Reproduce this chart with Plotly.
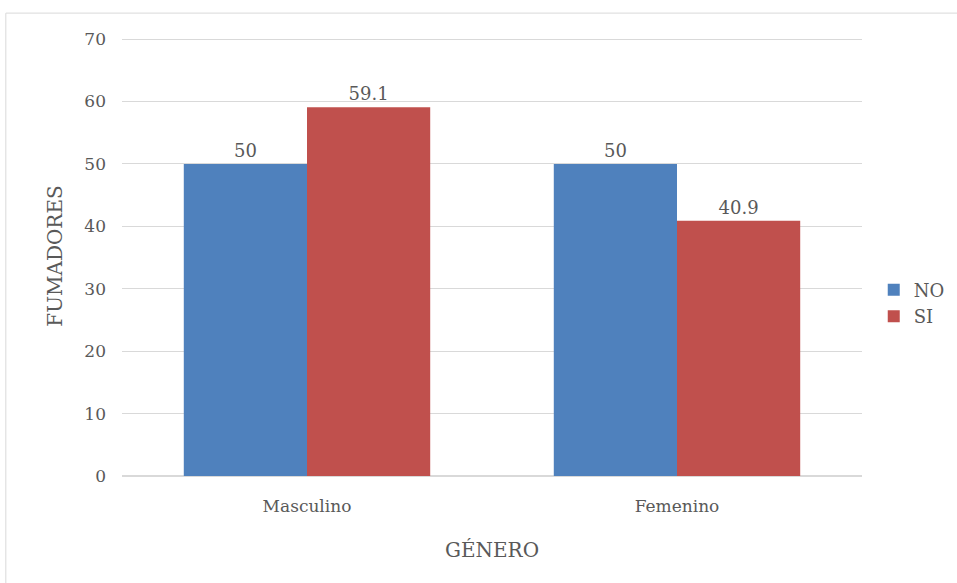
import plotly.graph_objects as go

# Porcentaje de fumadores por género
generos = ["Masculino", "Femenino"]
no_fuma = [50, 50]
si_fuma = [59.1, 40.9]

azul = "#4F81BD"
rojo = "#C0504D"
gris_texto = "#595959"
gris_linea = "#D9D9D9"
fuente = "DejaVu Serif"

fig = go.Figure()
for nombre, valores, color in (("NO", no_fuma, azul), ("SI", si_fuma, rojo)):
    fig.add_trace(go.Bar(
        name=nombre, x=generos, y=valores, marker_color=color,
        marker_line_width=0,
        text=[f"{v:g}" for v in valores], textposition="outside",
        textfont=dict(family=fuente, size=18, color=gris_texto),
        cliponaxis=False,
    ))

fig.update_layout(
    width=957, height=583,
    margin=dict(l=122, r=95, t=36, b=107, autoexpand=False),
    paper_bgcolor="white", plot_bgcolor="white",
    barmode="group", bargap=0.334, bargroupgap=0,
    font=dict(family=fuente, color=gris_texto, size=17),
    legend=dict(
        xref="container", yref="container",
        x=0.913, y=0.48, xanchor="left", yanchor="middle",
        font=dict(family=fuente, size=18, color=gris_texto),
        itemwidth=30, tracegroupgap=0,
    ),
    xaxis=dict(
        showline=False, showgrid=False, ticks="",
        ticklabelstandoff=18,
        tickfont=dict(family=fuente, size=17, color=gris_texto),
        title=dict(text="GÉNERO", font=dict(family=fuente, size=20, color=gris_texto), standoff=27),
    ),
    yaxis=dict(
        range=[0, 70.5], tickvals=[0, 10, 20, 30, 40, 50, 60, 70], showline=False,
        gridcolor=gris_linea, gridwidth=1, zeroline=True, zerolinecolor=gris_linea,
        ticks="", ticklabelstandoff=15,
        tickfont=dict(family=fuente, size=17, color=gris_texto),
        title=dict(text="FUMADORES", font=dict(family=fuente, size=20, color=gris_texto), standoff=16),
    ),
    shapes=[dict(
        type="rect", xref="paper", yref="paper",
        x0=-0.157, y0=-0.27, x1=1.14, y1=1.052,
        line=dict(color=gris_linea, width=1), layer="below",
    )],
)

fig.write_html("out.html")
